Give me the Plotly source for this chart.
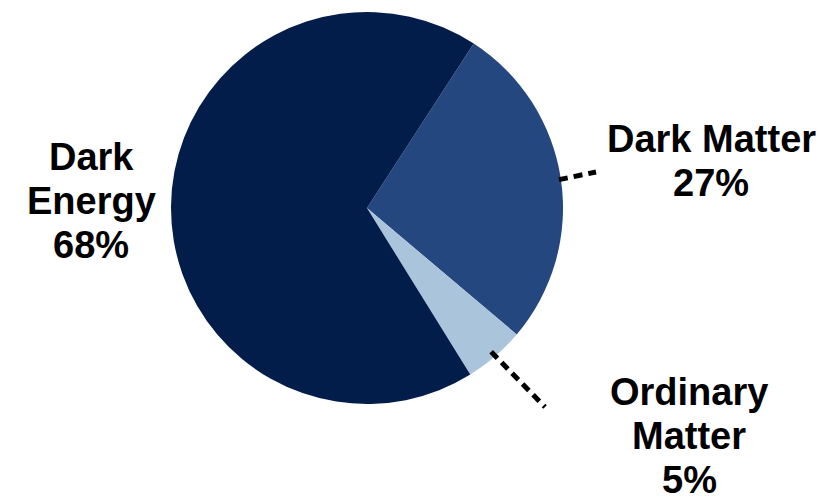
import math
import plotly.graph_objects as go

# Composition of the universe (percent), listed clockwise starting at the Dark Matter slice
labels = ["Dark Matter", "Ordinary Matter", "Dark Energy"]
values = [27, 5, 68]
label_lines = [["Dark Matter"], ["Ordinary", "Matter"], ["Dark", "Energy"]]
colors = ["#24477f", "#a9c4db", "#031d4b"]

W, H = 835, 497
CX, CY, R = 367, 208, 196          # pie centre and radius in pixels
ROTATION = 33                      # start angle of first slice, degrees clockwise from 12 o'clock
LINE_GAP = 44                      # vertical distance between label lines, pixels

fig = go.Figure()
fig.add_trace(go.Pie(
    labels=labels,
    values=values,
    sort=False,
    direction="clockwise",
    rotation=ROTATION,
    marker=dict(colors=colors, line=dict(width=0)),
    textinfo="none",
    hoverinfo="label+percent",
    showlegend=False,
    domain=dict(x=[(CX - R) / W, (CX + R) / W],
                y=[(H - CY - R) / H, (H - CY + R) / H]),
))

def px(x, y):
    return x / W, 1 - y / H

# slice mid-angles derived from the values
total = sum(values)
mids = []
acc = 0
for v in values:
    mids.append(ROTATION + (acc + v / 2) / total * 360)
    acc += v

# leader lines: (slice index, start radius offset, end point)
leaders = [(0, -2, (596, 172)), (1, -6, (545, 407))]
for i, dr, (ex, ey) in leaders:
    a = math.radians(mids[i])
    sx = CX + (R + dr) * math.sin(a)
    sy = CY - (R + dr) * math.cos(a)
    x0, y0 = px(sx, sy)
    x1, y1 = px(ex, ey)
    fig.add_shape(type="line", xref="paper", yref="paper",
                  x0=x0, y0=y0, x1=x1, y1=y1,
                  line=dict(color="black", width=5, dash="9px,6px"))

# label blocks: centre x, centre y of the whole block
label_pos = [(711, 161), (689, 436), (91, 201)]
font = dict(family="Liberation Sans, Arial, sans-serif", size=38, color="black", weight="bold")
for lines, v, (lx, ly) in zip(label_lines, values, label_pos):
    rows = lines + [f"{v}%"]
    top = ly - LINE_GAP * (len(rows) - 1) / 2
    for k, row in enumerate(rows):
        x, y = px(lx, top + k * LINE_GAP)
        fig.add_annotation(x=x, y=y, xref="paper", yref="paper", text=row,
                           showarrow=False, font=font, align="center",
                           xanchor="center", yanchor="middle")

fig.update_layout(
    width=W, height=H,
    margin=dict(l=0, r=0, t=0, b=0),
    paper_bgcolor="white", plot_bgcolor="white",
)
fig.write_html("out.html")
